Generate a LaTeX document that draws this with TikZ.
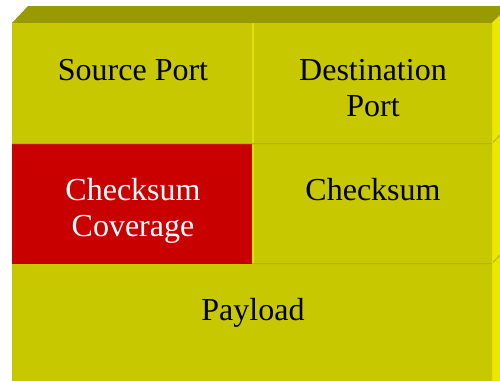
\documentclass[tikz,border=0pt]{standalone}
\usepackage{fontspec}
\setmainfont{Liberation Serif}
\definecolor{faceY}{RGB}{200,200,0}
\definecolor{topY}{RGB}{153,153,0}
\definecolor{sideY}{RGB}{232,232,0}
\definecolor{lineD}{RGB}{182,182,0}
\definecolor{lineL}{RGB}{226,226,0}
\definecolor{cellR}{RGB}{200,0,0}
\definecolor{lineR}{RGB}{170,0,0}
\tikzset{
  cell/.style={fill=faceY},
  label/.style={anchor=base, font=\fontsize{32}{36}\selectfont, align=center, inner sep=0pt},
  hline/.style={draw=lineD, line width=1pt},
  vline/.style={draw=lineL, line width=2pt},
}
\begin{document}
\begin{tikzpicture}[x=1pt,y=-1pt]
  \useasboundingbox (0,0) rectangle (500,380);
  \begin{scope}
    \clip (0,0) rectangle (500,380);
    % top and right faces of the block
    \fill[topY] (12,23) -- (28,6) -- (510,6) -- (492,23) -- cycle;
    \fill[sideY] (492,23) -- (510,5) -- (510,385) -- (492,385) -- cycle;
    % front faces of the fields
    \fill[cell] (12,23) rectangle (492,385);
    \fill[cellR] (12,144) rectangle (252,264);
    % field boundaries
    \draw[hline] (12,143.5) -- (492,143.5) -- (500,135);
    \draw[hline] (252,263.5) -- (492,263.5) -- (500,255);
    \draw[draw=lineR, line width=1pt] (12,263.5) -- (252,263.5);
    \draw[vline] (253,23) -- (253,143);
    \draw[vline] (253,145) -- (253,263);
    \draw[draw=lineL, line width=1pt] (492.5,23) -- (492.5,385);
  \end{scope}
  % field names
  \node[label] (sp) at (133,80) {Source Port};
  \node[label] (dp) at (373,80) {Destination};
  \node[label] (dp2) at (373,116) {Port};
  \node[label, text=white] (cc) at (133,200) {Checksum};
  \node[label, text=white] (cc2) at (133,236) {Coverage};
  \node[label] (cs) at (373,200) {Checksum};
  \node[label] (pl) at (253,320) {Payload};
\end{tikzpicture}
\end{document}
